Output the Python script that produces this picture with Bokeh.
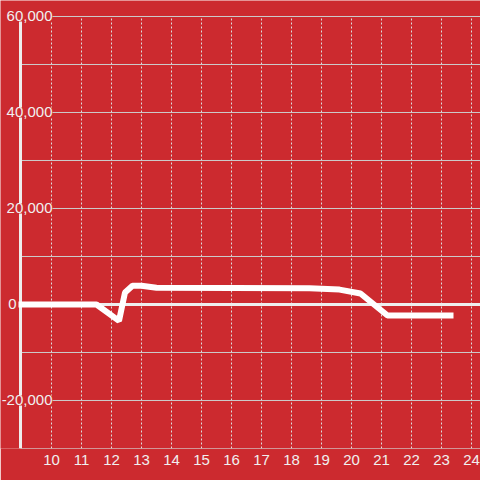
from bokeh.plotting import figure
from bokeh.models import FixedTicker, Label, Range1d
from bokeh.embed import file_html
from bokeh.resources import INLINE

# data
hours = [8.9, 11.5, 12.25, 12.45, 12.7, 13.0, 13.5, 18.6, 19.6, 20.3, 21.2, 23.4]
values = [0, 0, -3400, 2500, 3900, 3900, 3500, 3400, 3100, 2300, -2300, -2300]

x_ticks = list(range(10, 25))
y_grid_ticks = [-30000, -20000, -10000, 0, 10000, 20000, 30000, 40000, 50000, 60000]
y_label_ticks = [60000, 40000, 20000, 0, -20000]
y_labels = ["60,000", "40,000", "20,000", "0", "-20,000"]

# axis extents (value axis from -30000 to 60000, time axis starting just before 9)
AX_X0, AX_X1 = 8.967, 24.3
AX_Y0, AX_Y1 = -30000, 60000

BG = "#cc2a2f"
TXT = "#f0f0f0"
FONT = "Liberation Sans"

p = figure(width=480, height=480, output_backend="svg", toolbar_location=None,
           x_range=Range1d(8.3, AX_X1), y_range=Range1d(AX_Y0, 63333.3),
           min_border_left=0, min_border_right=0, min_border_top=0, min_border_bottom=32,
           background_fill_color=BG, border_fill_color=BG, outline_line_color=None)

p.xgrid.visible = False
p.ygrid.visible = False
p.yaxis.visible = False

# x axis labels only
p.xaxis.ticker = FixedTicker(ticks=x_ticks)
p.xaxis.axis_line_color = None
p.xaxis.major_tick_out = 0
p.xaxis.major_tick_in = 0
p.xaxis.minor_tick_line_color = None
p.xaxis.major_label_text_font = FONT
p.xaxis.major_label_text_font_size = "15px"
p.xaxis.major_label_text_color = TXT
p.xaxis.major_label_standoff = 6

# vertical dashed grid
p.segment(x0=x_ticks, y0=[AX_Y0] * len(x_ticks), x1=x_ticks, y1=[AX_Y1] * len(x_ticks),
          line_color="#dddddd", line_width=1, line_dash="2 2")
# horizontal grid
p.segment(x0=[AX_X0] * len(y_grid_ticks), y0=y_grid_ticks, x1=[AX_X1] * len(y_grid_ticks), y1=y_grid_ticks,
          line_color="#cccccc", line_width=1)
# zero line
p.segment(x0=[AX_X0], y0=[0], x1=[AX_X1], y1=[0], line_color="#eeeeee", line_width=3)
# y axis line
p.segment(x0=[AX_X0], y0=[AX_Y0], x1=[AX_X0], y1=[AX_Y1], line_color="#eeeeee", line_width=3)

# data line
p.line(hours, values, line_color="white", line_width=6)

# y labels
label_right = [52, 52, 52, 16, 52]
for v, t, lx in zip(y_label_ticks, y_labels, label_right):
    p.add_layout(Label(x=lx, y=v, x_units="screen", y_units="data", text=t,
                       text_align="right", text_baseline="middle",
                       text_font=FONT, text_font_size="15px", text_color=TXT,
                       background_fill_color=BG))

open("out.html", "w").write(file_html(p, INLINE))
